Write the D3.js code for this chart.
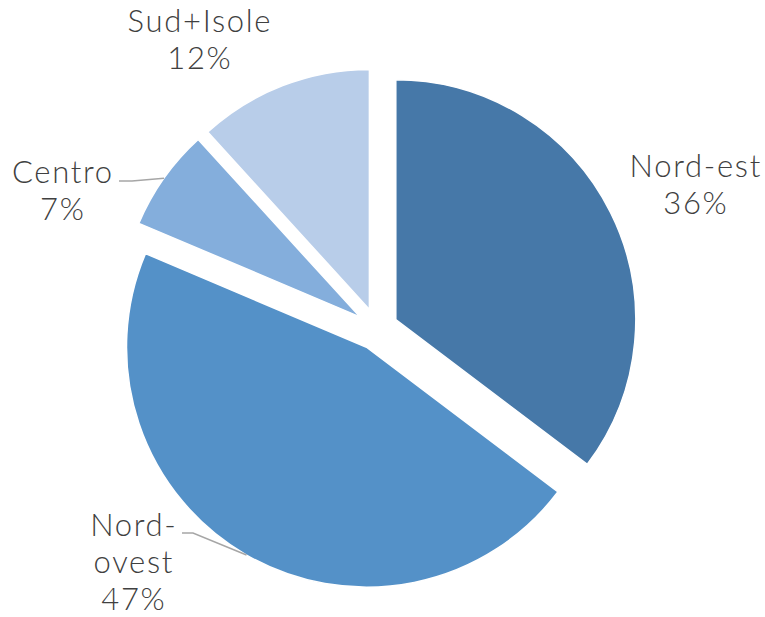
<!DOCTYPE html>
<html>
<head>
<meta charset="utf-8">
<script src="https://cdn.jsdelivr.net/npm/d3@7"></script>
<style>
  html, body { margin: 0; padding: 0; background: #ffffff; }
  svg { display: block; }
  text { font-family: "Lato", "DejaVu Sans", sans-serif; font-weight: 300; }
</style>
</head>
<body>
<svg id="chart" width="765" height="617"></svg>
<script>
// ---- data ----
const categories = ["Nord-est", "Nord-ovest", "Centro", "Sud+Isole"];
const values = [36, 47, 7, 12];
const labelLines = [["Nord-est"], ["Nord-", "ovest"], ["Centro"], ["Sud+Isole"]];
const colors = ["#4678a8", "#5491c8", "#84aedc", "#b8cde9"];

// ---- layout ----
const W = 765, H = 617;
const cx = 377, cy = 329, R = 240, explode = 21;
const fontSize = 31, lineH = 37, letterSpacing = 1.7;
// label block anchor (centre x, first baseline) relative to pie centre
const labelAnchor = [[318, -152], [-244, 207], [-315, -146], [-178, -297]];
// leader line start / bend (relative to label anchor), null = no leader
const leaderStart = [null, [49, -3], [57, -2], null];
const leaderBend = [null, [60, -3], [70, -2], null];

const svg = d3.select("#chart");
const g = svg.append("g").attr("transform", `translate(${cx},${cy})`);

const pie = d3.pie().sort(null).value(d => d).startAngle(0).endAngle(2 * Math.PI);
const arcs = pie(values);
const arc = d3.arc().innerRadius(0).outerRadius(R);

const off = a => { const m = (a.startAngle + a.endAngle) / 2; return [Math.sin(m) * explode, -Math.cos(m) * explode]; };

g.selectAll("path.slice").data(arcs).enter().append("path")
  .attr("class", "slice")
  .attr("transform", d => `translate(${off(d)[0]},${off(d)[1]})`)
  .attr("d", arc)
  .attr("fill", (d, i) => colors[i])
  .attr("stroke", "#ffffff")
  .attr("stroke-width", 1.5)
  .attr("stroke-linejoin", "miter");

// leader lines
arcs.forEach((d, i) => {
  if (!leaderStart[i]) return;
  const m = (d.startAngle + d.endAngle) / 2;
  const o = off(d);
  const ex = o[0] + Math.sin(m) * R, ey = o[1] - Math.cos(m) * R;
  const [ax, ay] = labelAnchor[i];
  const pts = [[ax + leaderStart[i][0], ay + leaderStart[i][1]], [ax + leaderBend[i][0], ay + leaderBend[i][1]], [ex, ey]];
  g.append("path")
    .attr("d", d3.line()(pts))
    .attr("fill", "none")
    .attr("stroke", "#a6a6a6")
    .attr("stroke-width", 1.5);
});

// labels
arcs.forEach((d, i) => {
  const [ax, ay] = labelAnchor[i];
  const lines = labelLines[i].concat([d.data + "%"]);
  const t = g.append("text")
    .attr("text-anchor", "middle")
    .attr("font-size", fontSize)
    .attr("letter-spacing", letterSpacing)
    .attr("fill", "#404040");
  lines.forEach((s, k) => {
    t.append("tspan").attr("x", ax + letterSpacing / 2).attr("y", ay + k * lineH).text(s);
  });
});
</script>
</body>
</html>
